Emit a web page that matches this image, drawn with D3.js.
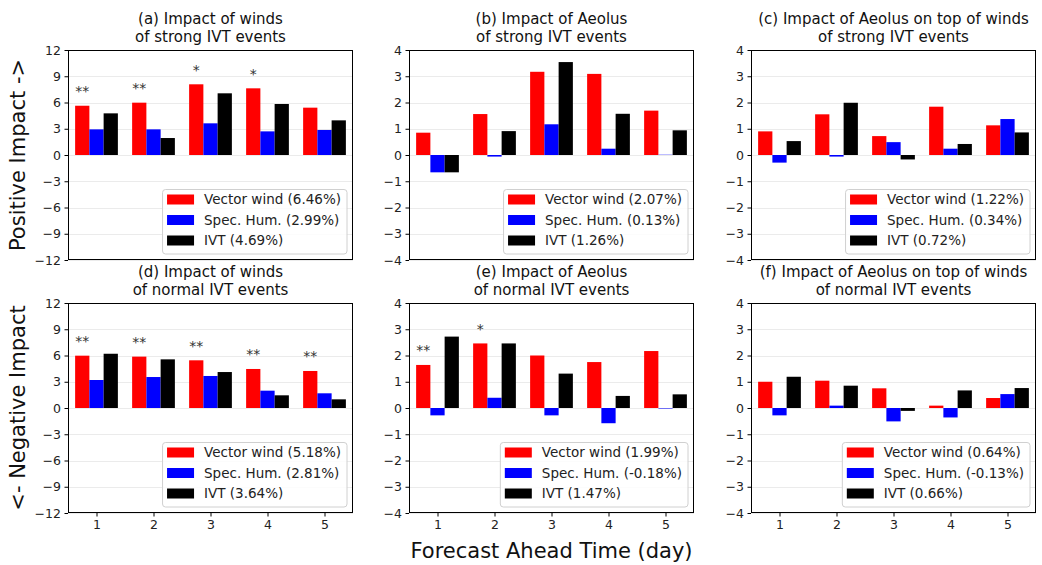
<!DOCTYPE html>
<html>
<head>
<meta charset="utf-8">
<script src="https://cdn.jsdelivr.net/npm/d3@7.9.0/dist/d3.min.js"></script>
<style>
  body { margin: 0; background: #fff; }
  svg { font-family: "DejaVu Sans", sans-serif; }
</style>
</head>
<body>
<div id="chart"></div>
<script>
// forecast days on the x axis
const days = [1, 2, 3, 4, 5];
const seriesNames = ["Vector wind", "Spec. Hum.", "IVT"];
const seriesColors = ["red", "blue", "black"];

const windTicks = [-12, -9, -6, -3, 0, 3, 6, 9, 12];
const aeolusTicks = [-4, -3, -2, -1, 0, 1, 2, 3, 4];

const panelTitles = [
  ["(a) Impact of winds", "of strong IVT events"],
  ["(b) Impact of Aeolus", "of strong IVT events"],
  ["(c) Impact of Aeolus on top of winds", "of strong IVT events"],
  ["(d) Impact of winds", "of normal IVT events"],
  ["(e) Impact of Aeolus", "of normal IVT events"],
  ["(f) Impact of Aeolus on top of winds", "of normal IVT events"]
];

// each panel: [vector wind, spec. hum., IVT] by day
const strongWinds = [
  [5.63, 5.98, 8.08, 7.62, 5.41],
  [2.93, 2.93, 3.62, 2.70, 2.86],
  [4.76, 1.94, 7.05, 5.83, 3.96]
];
const strongAeolus = [
  [0.85, 1.56, 3.17, 3.09, 1.69],
  [-0.66, -0.06, 1.17, 0.24, 0.01],
  [-0.66, 0.91, 3.54, 1.57, 0.94]
];
const strongAeolusOnWinds = [
  [0.90, 1.55, 0.72, 1.84, 1.13],
  [-0.29, -0.06, 0.49, 0.24, 1.37],
  [0.53, 1.99, -0.17, 0.42, 0.86]
];
const normalWinds = [
  [5.98, 5.87, 5.45, 4.46, 4.23],
  [3.20, 3.54, 3.66, 1.98, 1.68],
  [6.20, 5.56, 4.11, 1.45, 0.99]
];
const normalAeolus = [
  [1.64, 2.46, 2.00, 1.75, 2.17],
  [-0.28, 0.39, -0.28, -0.58, -0.02],
  [2.72, 2.46, 1.31, 0.46, 0.52]
];
const normalAeolusOnWinds = [
  [1.00, 1.04, 0.75, 0.09, 0.38],
  [-0.28, 0.09, -0.51, -0.36, 0.53],
  [1.19, 0.85, -0.11, 0.67, 0.76]
];

const legendPercents = [
  ["6.46%", "2.99%", "4.69%"],
  ["2.07%", "0.13%", "1.26%"],
  ["1.22%", "0.34%", "0.72%"],
  ["5.18%", "2.81%", "3.64%"],
  ["1.99%", "-0.18%", "1.47%"],
  ["0.64%", "-0.13%", "0.66%"]
];

// significance marks over the vector wind bars
const stars = [
  ["**", "**", "*", "*", ""],
  ["", "", "", "", ""],
  ["", "", "", "", ""],
  ["**", "**", "**", "**", "**"],
  ["**", "*", "", "", ""],
  ["", "", "", "", ""]
];

const panelData = [strongWinds, strongAeolus, strongAeolusOnWinds, normalWinds, normalAeolus, normalAeolusOnWinds];
const panelTicks = [windTicks, aeolusTicks, aeolusTicks, windTicks, aeolusTicks, aeolusTicks];

const width = 1042;
const height = 565;
const colLeft = [68, 409, 751];
const rowTop = [50, 303];
const pw = 285;
const ph = 210;
const barW = 0.25;

const svg = d3.select("#chart")
  .append("svg")
  .attr("width", width)
  .attr("height", height);

panelData.forEach((series, i) => {
  const col = i % 3;
  const row = Math.floor(i / 3);
  const ticks = panelTicks[i];

  const g = svg.append("g")
    .attr("transform", `translate(${colLeft[col]}, ${rowTop[row]})`);

  const x = d3.scaleLinear().domain([0.5, 5.5]).range([0, pw]);
  const y = d3.scaleLinear().domain([ticks[0], ticks[ticks.length - 1]]).range([ph, 0]);

  // grid
  g.selectAll(".grid")
    .data(ticks)
    .join("line")
    .attr("x1", 0)
    .attr("x2", pw)
    .attr("y1", d => Math.round(y(d)) + 0.5)
    .attr("y2", d => Math.round(y(d)) + 0.5)
    .attr("stroke", "#ebebeb")
    .attr("stroke-width", 1);

  // bars
  series.forEach((vals, s) => {
    g.selectAll(".bar" + s)
      .data(vals)
      .join("rect")
      .attr("x", (d, k) => x(days[k] + (s - 1.5) * barW))
      .attr("width", x(barW) - x(0))
      .attr("y", d => y(Math.max(0, d)))
      .attr("height", d => Math.abs(y(d) - y(0)))
      .attr("fill", seriesColors[s]);
  });

  // stars
  g.selectAll(".star")
    .data(stars[i])
    .join("text")
    .attr("x", (d, k) => x(days[k] - barW))
    .attr("y", (d, k) => y(series[0][k]) - 9.5)
    .attr("text-anchor", "middle")
    .attr("font-size", 14)
    .attr("fill", "#333")
    .text(d => d);

  // axes
  const yAxis = g.append("g")
    .call(d3.axisLeft(y).tickValues(ticks).tickSize(3.5).tickPadding(3.5)
      .tickFormat(d => d < 0 ? "\u2212" + Math.abs(d) : d));
  yAxis.select(".domain").remove();
  yAxis.selectAll("text").attr("font-size", 12.5).attr("fill", "#222").attr("font-family", "DejaVu Sans");
  yAxis.selectAll("line").attr("stroke", "#000");

  if (row === 1) {
    const xAxis = g.append("g")
      .attr("transform", `translate(0, ${ph})`)
      .call(d3.axisBottom(x).tickValues(days).tickFormat(d3.format("d")).tickSize(3.5).tickPadding(3.5));
    xAxis.select(".domain").remove();
    xAxis.selectAll("text").attr("font-size", 12.5).attr("fill", "#222").attr("font-family", "DejaVu Sans");
    xAxis.selectAll("line").attr("stroke", "#000");
  }

  g.append("rect")
    .attr("x", 0.5)
    .attr("y", 0.5)
    .attr("width", pw - 1)
    .attr("height", ph - 1)
    .attr("fill", "none")
    .attr("stroke", "#000")
    .attr("stroke-width", 1);

  // two-line title
  const title = g.append("text")
    .attr("text-anchor", "middle")
    .attr("font-size", 15)
    .attr("fill", "#111");
  title.append("tspan")
    .attr("x", pw / 2)
    .attr("y", -26)
    .text(panelTitles[i][0]);
  title.append("tspan")
    .attr("x", pw / 2)
    .attr("y", -8.5)
    .text(panelTitles[i][1]);

  // legend
  const lg = g.append("g");
  const box = lg.append("rect")
    .attr("fill", "white")
    .attr("fill-opacity", 0.85)
    .attr("stroke", "#d0d0d0")
    .attr("rx", 3);
  const labels = seriesNames.map((n, s) => `${n} (${legendPercents[i][s]})`);
  let maxW = 0;
  labels.forEach((t, s) => {
    lg.append("rect")
      .attr("x", 4.5)
      .attr("y", 5 + s * 20.5)
      .attr("width", 27)
      .attr("height", 10)
      .attr("fill", seriesColors[s]);
    const tx = lg.append("text")
      .attr("x", 41.5)
      .attr("y", 10 + s * 20.5)
      .attr("dy", "0.35em")
      .attr("font-size", 13.5)
      .attr("fill", "#222")
      .text(t);
    maxW = Math.max(maxW, tx.node().getComputedTextLength());
  });
  const bw = 41.5 + maxW + 6;
  const bh = 64.5;
  box.attr("x", 0).attr("y", 0).attr("width", bw).attr("height", bh);
  lg.attr("transform", `translate(${pw - 6 - bw}, ${ph - 6 - bh})`);
});

// shared axis labels
svg.append("text")
  .attr("transform", `translate(18, ${rowTop[0] + ph / 2}) rotate(-90)`)
  .attr("text-anchor", "middle")
  .attr("dy", "0.35em")
  .attr("font-size", 21)
  .attr("fill", "#111")
  .text("Positive Impact ->");

svg.append("text")
  .attr("transform", `translate(18, ${rowTop[1] + ph / 2}) rotate(-90)`)
  .attr("text-anchor", "middle")
  .attr("dy", "0.35em")
  .attr("font-size", 21)
  .attr("fill", "#111")
  .text("<- Negative Impact");

svg.append("text")
  .attr("x", colLeft[1] + pw / 2)
  .attr("y", 558)
  .attr("text-anchor", "middle")
  .attr("font-size", 21)
  .attr("fill", "#111")
  .text("Forecast Ahead Time (day)");
</script>
</body>
</html>
